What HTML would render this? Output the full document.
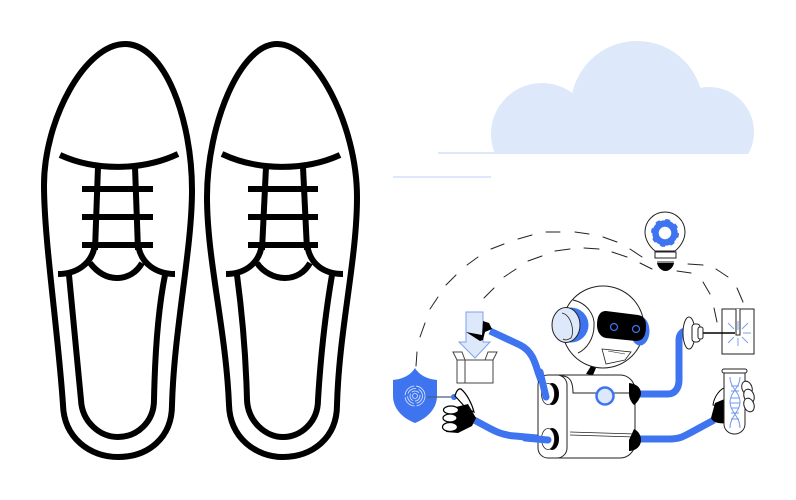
<!DOCTYPE html>
<html><head><meta charset="utf-8"><style>html,body{margin:0;padding:0;background:#fff}svg{display:block}</style></head><body>
<svg width="796" height="500" viewBox="0 0 796 500" xmlns="http://www.w3.org/2000/svg">
<defs><clipPath id="c"><rect x="480" y="30" width="290" height="124"/></clipPath></defs>
<g fill="none" stroke="#000" stroke-width="6">
<path d="M125 44C85 44 44 120 44 185C44 240 58 330 63 405C64 438 90 457 118 457C148 457 172 438 172 405C174 330 192 250 192 190C192 120 165 44 125 44Z"/>
<path d="M69 275L81 400C82 422 100 437 118 437C137 437 154 422 154 400C155 350 158 310 165 275"/>
<path d="M60 155C95 171 142 171 178 154"/>
<path d="M98 167L95 250M135 167L138 250M82 189H153M82 217H153M82 245H153"/>
<path d="M58 274C75 274 93 265 95 243M90 263C97 272 106 278 117 278C128 278 137 272 142 263M175 274C158 274 140 265 138 243"/>

<path d="M277 44C240 44 207 125 207 197C207 260 226 330 229 405C230 438 256 457 283 457C312 457 337 438 337 405C339 330 357 260 357 197C357 125 315 44 277 44Z"/>
<path d="M237 275C243 320 246 360 247 400C248 422 266 437 283 437C301 437 318 422 318 400C321 350 326 310 332 275"/>
<path d="M222 154C258 171 305 171 340 155"/>
<path d="M266 167L262 250M303 167L307 250M248 189H318M248 217H318M248 245H318"/>
<path d="M226 274C243 274 260 265 262 243M257 263C263 272 274 278 285 278C296 278 305 272 310 263M343 274C325 274 309 265 307 243"/>
</g>

<g fill="#dde8fa" clip-path="url(#c)">
<circle cx="542" cy="134" r="51"/>
<circle cx="637" cy="107.300" r="66.300"/>
<circle cx="709" cy="132" r="45"/>
<rect x="520" y="110" width="200" height="44"/>
</g>
<rect x="438" y="152" width="60" height="2" fill="#dde8fa"/>
<rect x="393" y="176" width="98" height="2" fill="#dde8fa"/>

<g fill="none" stroke="#222" stroke-width="1" stroke-linecap="round">
<path d="M416 366L417 352M420 337L425 323M430 309L438 297M446 285L456 275M467 265L478 257M491 249L504 244M518 239L532 235M546 232L560 232M575 232L589 234M603 237L617 242M630 249L642 257"/>
<path d="M484 298L494 288M504 277L516 269M528 261L542 256M555 251L570 249M584 248L599 249M612 252L627 257M640 263L652 269"/>
<path d="M688 264L703 265M716 269L728 277M737 288L743 302M677 271L691 273M703 282L710 294M714 308L717 322"/>
</g>

<!-- blue pipes -->
<g fill="none" stroke="#3f74f0" stroke-width="7">
<path d="M490 331L520 345C532 351 535 362 538 372L547 397"/>
<path d="M474 420C490 428 498 435 515 436L548 439"/>
<path d="M640 394H668C675 394 679 388 679 380V340C679 335 682 331 686 331"/>
<path d="M640 439H670C680 439 684 436 690 433L714 420"/>
</g>

<!-- box and arrow -->
<path d="M457 360H493V383H457ZM465 360V383M457 360L453 352H462L465 360M485 360L488 352H497L493 360" fill="#fff" stroke="#444" stroke-width="1"/>
<path d="M466 312H483V342H490L475 358L459 342H466Z" fill="#dde8fa" stroke="#7ea1ee" stroke-width="1"/>
<path d="M483 321L489 323L492 329L485 332L483 340L480 341L466 332L482 335Z" fill="#000"/>

<!-- shield -->
<path d="M415 368C420 376 428 379 437 380V396C437 408 428 418 415 423C402 418 393 408 393 396V380C402 379 410 376 415 368Z" fill="#3f74f0"/>
<g fill="none" stroke="#dfe8fb" stroke-width="0.8">
<circle cx="415" cy="396" r="10" stroke-dasharray="14 2"/>
<circle cx="415" cy="396" r="7.5" stroke-dasharray="10 3"/>
<circle cx="415" cy="396" r="5" stroke-dasharray="8 2"/>
<circle cx="415" cy="396" r="2.5"/>
</g>
<path d="M427 397H453" stroke="#44607f" stroke-width="1.2"/>
<circle cx="454" cy="397" r="3" fill="#3f74f0"/>

<!-- left hand -->
<path d="M455 396C456 392 458 388 461 389C467 394 472 404 474 412L466 408Z" fill="#fff" stroke="#000" stroke-width="1.200"/>
<path d="M456 407L468 404L476 418L472 426L458 433L446 432Z" fill="#000"/>
<g fill="#fff" stroke="#000" stroke-width="1.200">
<ellipse cx="451" cy="410" rx="7.500" ry="4"/>
<ellipse cx="450" cy="418" rx="7" ry="4"/>
<ellipse cx="450" cy="427" rx="7.500" ry="4.500"/>
</g>

<!-- robot head -->
<circle cx="603" cy="327" r="41" fill="#fff" stroke="#222" stroke-width="1"/>
<path d="M573 300C587 303 595 315 594 326C594 338 587 349 578 353" fill="none" stroke="#222" stroke-width="1"/>
<circle cx="571" cy="325" r="17.500" fill="#3f74f0"/>
<ellipse cx="566" cy="325" rx="14" ry="17.500" fill="#dde8fa" stroke="#222" stroke-width="1"/>
<path d="M562 313C571 315 575 331 571 338C569 339 566 341 563 339" fill="none" stroke="#222" stroke-width="0.800"/>
<ellipse cx="640" cy="331" rx="9.500" ry="14.500" fill="#3f74f0"/>
<path d="M606 311L638 315C644 316 646 320 646 326C646 334 644 341 636 341L606 338C600 337 597 331 597 325C597 316 600 311 606 311Z" fill="#000"/>
<circle cx="614" cy="327" r="3.500" fill="none" stroke="#3f74f0" stroke-width="1.200"/>
<circle cx="636" cy="329" r="3.500" fill="none" stroke="#3f74f0" stroke-width="1.200"/>
<path d="M602 349L631 352L625 360L606 364Z" fill="#fff" stroke="#222" stroke-width="0.800"/>
<path d="M608 351L625 354" stroke="#222" stroke-width="0.600"/>
<path d="M586 374L591 366L596 368L593 375Z" fill="#000"/>

<!-- robot body -->
<rect x="538" y="375" width="97" height="83" rx="15" fill="#fff" stroke="#222" stroke-width="1"/>
<rect x="538" y="375" width="29" height="83" rx="10" fill="#fff" stroke="#222" stroke-width="1"/>
<path d="M562 376C570 376 573 382 573 393H634" fill="none" stroke="#222" stroke-width="1"/>
<path d="M570 432L635 434M570 435L635 437" stroke="#222" stroke-width="0.800"/>
<circle cx="605" cy="396" r="8.500" fill="#dde8fa" stroke="#3f74f0" stroke-width="2.500"/>
<ellipse cx="552" cy="394" rx="7" ry="11" fill="#000"/>
<ellipse cx="548" cy="394" rx="6.500" ry="10.500" fill="#fff" stroke="#222" stroke-width="0.800"/>
<ellipse cx="552" cy="439" rx="7" ry="11" fill="#000"/>
<ellipse cx="548" cy="439" rx="6.500" ry="10.500" fill="#fff" stroke="#222" stroke-width="0.800"/>
<path d="M540 372L546 397" stroke="#3f74f0" stroke-width="7" stroke-linecap="round" fill="none"/>
<path d="M525 438L548 440" stroke="#3f74f0" stroke-width="7" stroke-linecap="round" fill="none"/>
<path d="M629 383C637 384 641 388 641 394C640 399 636 404 634 405C631 402 629 398 629 394Z" fill="#000"/>
<path d="M634 429C638 431 641 435 641 440C641 447 635 451 629 451V440Z" fill="#000"/>

<!-- bulb -->
<path d="M655 251C650 247 645 240 645 232A20 20 0 0 1 685 232C685 240 680 247 675 251Z" fill="#fff" stroke="#222" stroke-width="1"/>
<rect x="655" y="252" width="21" height="6" fill="#fff" stroke="#222" stroke-width="1"/>
<path d="M657 262H674" stroke="#222" stroke-width="1"/>
<path d="M657 263H674C673 268 669 271 665.500 271C662 271 658 268 657 263Z" fill="#000"/>
<circle cx="665" cy="233" r="9.500" fill="none" stroke="#3f74f0" stroke-width="6.500"/>
<circle cx="665" cy="233" r="12.500" fill="none" stroke="#3f74f0" stroke-width="3" stroke-dasharray="4.500 5.300"/>

<!-- laser -->
<rect x="722" y="309" width="32" height="45" fill="#fff" stroke="#222" stroke-width="1"/>
<path d="M736 309V335H740V309" fill="#fff" stroke="#222" stroke-width="1"/>
<path d="M725 333H733M743 333H751M728 323L734 329M748 323L742 329M728 343L734 337M748 343L742 337M738 321V330M738 338V346" stroke="#7ea1ee" stroke-width="1"/>
<path d="M702 333H735" stroke="#000" stroke-width="1.500"/>
<ellipse cx="689" cy="333" rx="6" ry="16" fill="#fff" stroke="#222" stroke-width="1"/>
<rect x="692" y="324" width="8" height="18" rx="3" fill="#fff" stroke="#222" stroke-width="1"/>
<rect x="698" y="327" width="5" height="12" rx="2" fill="#fff" stroke="#222" stroke-width="1"/>

<!-- tube -->
<path d="M713 405C714 397 720 388 727 387V408Z" fill="#fff" stroke="#000" stroke-width="1"/>
<path d="M715 403L727 398V423C720 424 713 423 711 418Z" fill="#000"/>
<path d="M724 373V424C724 430 729 434 734.500 434C740 434 745 430 745 424V373Z" fill="#fff" stroke="#222" stroke-width="1"/>
<rect x="722" y="369" width="25" height="4" rx="2" fill="#fff" stroke="#222" stroke-width="1"/>
<g fill="none" stroke="#6f97f0" stroke-width="1">
<path d="M730 377C730 388 740 392 740 402C740 412 730 416 730 428M740 377C740 388 730 392 730 402C730 412 740 416 740 428"/>
<path d="M731 386H739M731 391H739M731 398H739M730 403H740M731 408H739M731 413H739M731 419H739"/>
</g>
<g fill="#fff" stroke="#222" stroke-width="1">
<ellipse cx="747" cy="388" rx="5" ry="7" transform="rotate(-20 747 388)"/>
<ellipse cx="749" cy="396" rx="5" ry="7" transform="rotate(-20 749 396)"/>
<ellipse cx="749" cy="405" rx="5" ry="7" transform="rotate(-20 749 405)"/>
</g>
</svg>
</body></html>
